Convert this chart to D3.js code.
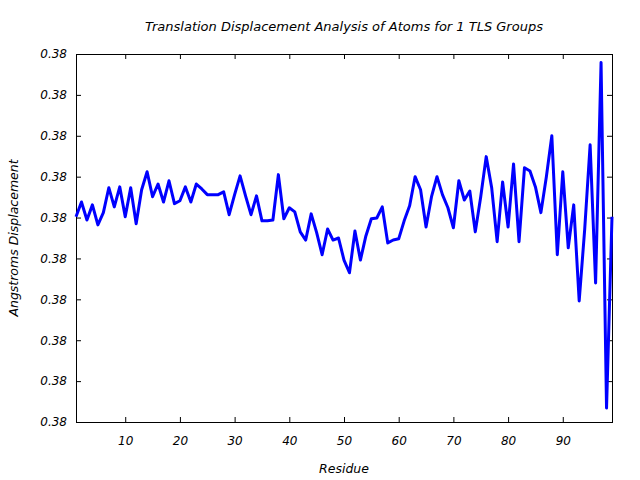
<!DOCTYPE html>
<html>
<head>
<meta charset="utf-8">
<script src="https://cdn.jsdelivr.net/npm/d3@7"></script>
<style>
  body { margin: 0; background: #fff; }
  text { font-family: "DejaVu Sans", sans-serif; font-style: italic; fill: #000; }
</style>
</head>
<body>
<svg id="chart" width="640" height="480"></svg>
<script>
var residues = [
  1, 2, 3, 4, 5, 6, 7, 8, 9, 10, 11, 12, 13, 14, 15, 16, 17, 18, 19, 20,
  21, 22, 23, 24, 25, 26, 27, 28, 29, 30, 31, 32, 33, 34, 35, 36, 37, 38, 39, 40,
  41, 42, 43, 44, 45, 46, 47, 48, 49, 50, 51, 52, 53, 54, 55, 56, 57, 58, 59, 60,
  61, 62, 63, 64, 65, 66, 67, 68, 69, 70, 71, 72, 73, 74, 75, 76, 77, 78, 79, 80,
  81, 82, 83, 84, 85, 86, 87, 88, 89, 90, 91, 92, 93, 94, 95, 96, 97, 98, 99
];

var displacement = [
  0.380502, 0.380538, 0.380494, 0.380531, 0.380482, 0.380512, 0.380573, 0.380526, 0.380575, 0.380502,
  0.380573, 0.380485, 0.380568, 0.380612, 0.380551, 0.380582, 0.380538, 0.380590, 0.380534, 0.380541,
  0.380575, 0.380538, 0.380582, 0.380570, 0.380556, 0.380556, 0.380556, 0.380563, 0.380507, 0.380556,
  0.380602, 0.380553, 0.380507, 0.380553, 0.380492, 0.380492, 0.380494, 0.380605, 0.380497, 0.380524,
  0.380514, 0.380465, 0.380445, 0.380509, 0.380463, 0.380409, 0.380472, 0.380445, 0.380450, 0.380396,
  0.380365, 0.380467, 0.380396, 0.380455, 0.380497, 0.380499, 0.380526, 0.380438, 0.380445, 0.380448,
  0.380492, 0.380529, 0.380600, 0.380568, 0.380477, 0.380551, 0.380600, 0.380556, 0.380524, 0.380475,
  0.380590, 0.380543, 0.380565, 0.380465, 0.380551, 0.380649, 0.380573, 0.380441, 0.380587, 0.380477,
  0.380631, 0.380441, 0.380622, 0.380614, 0.380575, 0.380512, 0.380600, 0.380700, 0.380409, 0.380612,
  0.380426, 0.380531, 0.380296, 0.380470, 0.380678, 0.380340, 0.380879, 0.380034, 0.380502
];

var xTicks = [10, 20, 30, 40, 50, 60, 70, 80, 90];
var yTicks = [0.3800, 0.3801, 0.3802, 0.3803, 0.3804, 0.3805, 0.3806, 0.3807, 0.3808, 0.3809];

var title = "Translation Displacement Analysis of Atoms for 1 TLS Groups";
var xLabel = "Residue";
var yLabel = "Angstroms Displacement";

function draw() {
  var svg = d3.select("#chart"),
    plotLeft = 76, plotRight = 612, plotTop = 54, plotBottom = 422;

  var x = d3.scaleLinear().domain([1, 99]).range([plotLeft, plotRight]);
  var y = d3.scaleLinear().domain([0.3800, 0.3809]).range([plotBottom, plotTop]);

  var fmt = d3.format(".2f");

  // axes, ticks pointing inwards
  svg.append("g")
    .attr("transform", "translate(0," + plotBottom + ")")
    .call(d3.axisBottom(x).tickValues(xTicks).tickSizeInner(-5).tickSizeOuter(0).tickPadding(14))
    .call(function (g) { g.select(".domain").remove(); });

  svg.append("g")
    .attr("transform", "translate(0," + plotTop + ")")
    .call(d3.axisTop(x).tickValues(xTicks).tickSizeInner(-5).tickSizeOuter(0).tickFormat(""))
    .call(function (g) { g.select(".domain").remove(); });

  svg.append("g")
    .attr("transform", "translate(" + plotLeft + ",0)")
    .call(d3.axisLeft(y).tickValues(yTicks).tickFormat(fmt).tickSizeInner(-5).tickSizeOuter(0).tickPadding(9))
    .call(function (g) { g.select(".domain").remove(); });

  svg.append("g")
    .attr("transform", "translate(" + plotRight + ",0)")
    .call(d3.axisRight(y).tickValues(yTicks).tickSizeInner(-5).tickSizeOuter(0).tickFormat(""))
    .call(function (g) { g.select(".domain").remove(); });

  svg.selectAll(".tick text")
    .style("font-family", "'DejaVu Sans', sans-serif")
    .style("font-style", "italic")
    .style("font-size", "12px")
    .attr("fill", "#000");

  svg.selectAll(".tick line").attr("stroke", "#000");

  // frame
  svg.append("rect")
    .attr("x", plotLeft + 0.5)
    .attr("y", plotTop + 0.5)
    .attr("width", plotRight - plotLeft)
    .attr("height", plotBottom - plotTop)
    .attr("fill", "none")
    .attr("stroke", "#000")
    .attr("stroke-width", 1);

  // data line
  var points = residues.map(function (r, i) {
    return { r: r, v: displacement[i] };
  });

  var line = d3.line()
    .x(function (d) { return x(d.r); })
    .y(function (d) { return y(d.v); });

  svg.append("path")
    .datum(points)
    .attr("d", line)
    .attr("fill", "none")
    .attr("stroke", "#0000ff")
    .attr("stroke-width", 3)
    .attr("stroke-linejoin", "round");

  // labels
  svg.append("text")
    .attr("x", (plotLeft + plotRight) / 2)
    .attr("y", 31)
    .attr("text-anchor", "middle")
    .style("font-size", "13px")
    .text(title);

  svg.append("text")
    .attr("x", (plotLeft + plotRight) / 2)
    .attr("y", 473)
    .attr("text-anchor", "middle")
    .style("font-size", "12.5px")
    .text(xLabel);

  svg.append("text")
    .attr("transform", "translate(18," + (plotTop + plotBottom) / 2 + ") rotate(-90)")
    .attr("text-anchor", "middle")
    .style("font-size", "12.5px")
    .text(yLabel);
}

draw();
</script>
</body>
</html>
